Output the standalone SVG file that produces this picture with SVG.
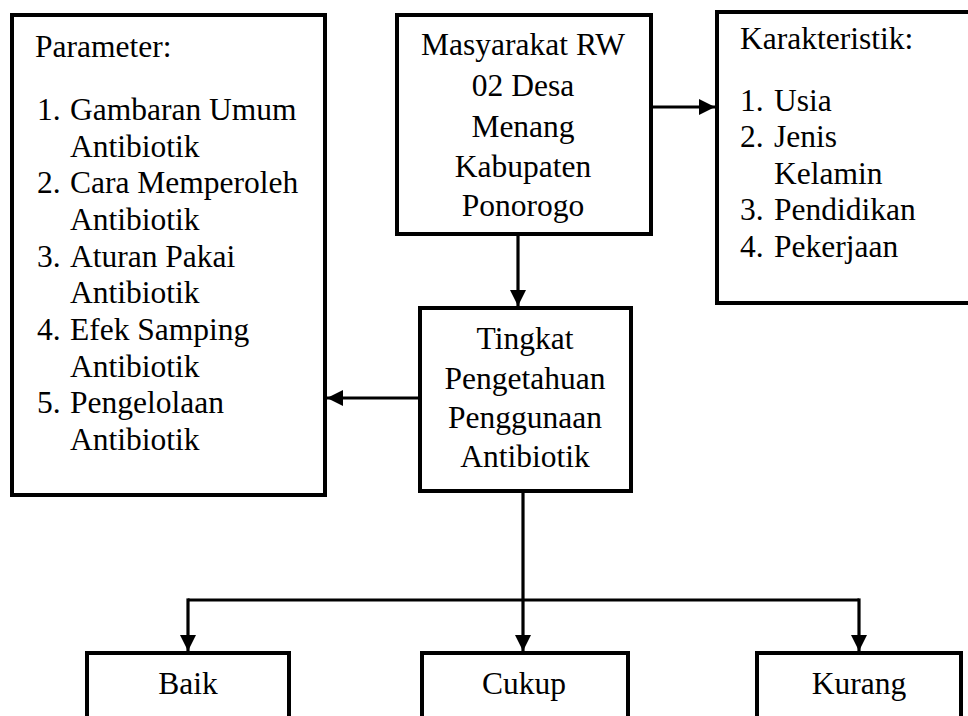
<svg xmlns="http://www.w3.org/2000/svg" width="968" height="716" viewBox="0 0 968 716">
<style>
.box{fill:#fff;stroke:#000;stroke-width:4}
.t{font-family:"Liberation Serif","Times New Roman",serif;font-size:31.5px;fill:#000}
.c{text-anchor:middle}
.ln{fill:none;stroke:#000;stroke-width:3.2}
</style>
<defs>
<marker id="ah" viewBox="0 0 10 10" refX="10" refY="5" markerWidth="5" markerHeight="5" markerUnits="strokeWidth" orient="auto">
<path d="M0,0 L10,5 L0,10 z" fill="#000"/>
</marker>
</defs>
<rect width="968" height="716" fill="#fff"/>
<g id="parameter">
<rect class="box" x="12" y="15" width="313" height="480"/>
<text class="t" x="35" y="57">Parameter:</text>
<text class="t" x="37" y="120">1.</text><text class="t" x="70" y="120">Gambaran Umum</text>
<text class="t" x="70" y="156.7">Antibiotik</text>
<text class="t" x="37" y="193.4">2.</text><text class="t" x="70" y="193.4">Cara Memperoleh</text>
<text class="t" x="70" y="230">Antibiotik</text>
<text class="t" x="37" y="266.7">3.</text><text class="t" x="70" y="266.7">Aturan Pakai</text>
<text class="t" x="70" y="303.4">Antibiotik</text>
<text class="t" x="37" y="340">4.</text><text class="t" x="70" y="340">Efek Samping</text>
<text class="t" x="70" y="376.7">Antibiotik</text>
<text class="t" x="37" y="413.4">5.</text><text class="t" x="70" y="413.4">Pengelolaan</text>
<text class="t" x="70" y="450">Antibiotik</text>
</g>
<g id="masyarakat">
<rect class="box" x="397" y="15" width="254" height="219"/>
<text class="t c" x="523" y="55">Masyarakat RW</text>
<text class="t c" x="523" y="96">02 Desa</text>
<text class="t c" x="523" y="136.5">Menang</text>
<text class="t c" x="523" y="177">Kabupaten</text>
<text class="t c" x="523" y="216">Ponorogo</text>
</g>
<g id="karakteristik">
<rect class="box" x="717" y="12" width="260" height="291"/>
<text class="t" x="740" y="49">Karakteristik:</text>
<text class="t" x="740" y="110.5">1.</text><text class="t" x="774" y="110.5">Usia</text>
<text class="t" x="740" y="147">2.</text><text class="t" x="774" y="147">Jenis</text>
<text class="t" x="774" y="183.5">Kelamin</text>
<text class="t" x="740" y="220">3.</text><text class="t" x="774" y="220">Pendidikan</text>
<text class="t" x="740" y="256.7">4.</text><text class="t" x="774" y="256.7">Pekerjaan</text>
</g>
<g id="tingkat">
<rect class="box" x="420" y="308" width="211" height="183"/>
<text class="t c" x="525" y="349">Tingkat</text>
<text class="t c" x="525" y="388.5">Pengetahuan</text>
<text class="t c" x="525" y="428">Penggunaan</text>
<text class="t c" x="525" y="467">Antibiotik</text>
</g>
<g id="baik">
<rect class="box" x="87" y="653" width="202" height="80"/>
<text class="t c" x="188" y="694">Baik</text>
</g>
<g id="cukup">
<rect class="box" x="422" y="653" width="206" height="80"/>
<text class="t c" x="524" y="694">Cukup</text>
</g>
<g id="kurang">
<rect class="box" x="757" y="653" width="204" height="80"/>
<text class="t c" x="859" y="694">Kurang</text>
</g>
<g id="connectors">
<line class="ln" x1="653" y1="107" x2="715" y2="107" marker-end="url(#ah)"/>
<line class="ln" x1="518" y1="236" x2="518" y2="306" marker-end="url(#ah)"/>
<line class="ln" x1="418" y1="398" x2="327" y2="398" marker-end="url(#ah)"/>
<polyline class="ln" points="523,493 523,600"/>
<line class="ln" x1="188" y1="600" x2="859" y2="600"/>
<line class="ln" x1="188" y1="598.4" x2="188" y2="651" marker-end="url(#ah)"/>
<line class="ln" x1="523" y1="600" x2="523" y2="651" marker-end="url(#ah)"/>
<line class="ln" x1="859" y1="598.4" x2="859" y2="651" marker-end="url(#ah)"/>
</g>
</svg>
